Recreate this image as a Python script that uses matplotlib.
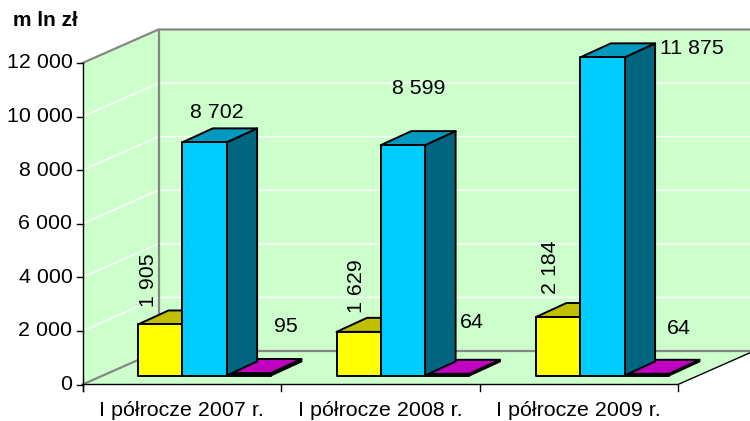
import matplotlib
matplotlib.use("Agg")
import matplotlib.pyplot as plt
from matplotlib.patches import Polygon

plt.rcParams['font.family'] = ['Liberation Sans', 'DejaVu Sans']

categories = ["I półrocze 2007 r.", "I półrocze 2008 r.", "I półrocze 2009 r."]
yellow_values = [1905, 1629, 2184]
blue_values = [8702, 8599, 11875]
magenta_values = [95, 64, 64]
yellow_labels = ["1 905", "1 629", "2 184"]
blue_labels = ["8 702", "8 599", "11 875"]
magenta_labels = ["95", "64", "64"]
y_ticks = [0, 2000, 4000, 6000, 8000, 10000, 12000]
y_tick_labels = ["0", "2 000", "4 000", "6 000", "8 000", "10 000", "12 000"]
unit = "m ln zł"

# layout (pixels)
X0, X1, Y0, Y12 = 82.5, 678.0, 384.5, 63.0
DX, DY = 76.0, -33.5          # box depth
BDX, BDY = 30.5, -14.0        # bar depth
BASE = 375.5                  # bar base at front
GROUP_X = [138.0, 336.5, 536.0]
BW = 44.3
C_WALL = "#CCFFCC"
C_EDGE = "#868686"
FS = 15.4


def vy(v):
    return Y0 - v * (Y0 - Y12) / 12000.0


def bary(v):
    return BASE - v * (Y0 - Y12) / 12000.0


fig = plt.figure(figsize=(7.5, 4.21), dpi=100)
ax = fig.add_axes([0, 0, 1, 1])
ax.set_xlim(0, 750)
ax.set_ylim(421, 0)
ax.axis("off")

# walls and floor
ax.add_patch(Polygon([(X0, vy(12000)), (X0 + DX, vy(12000) + DY), (X0 + DX, Y0 + DY), (X0, Y0)], fc=C_WALL, ec="none", zorder=1))
ax.add_patch(Polygon([(X0 + DX, vy(12000) + DY), (X1 + DX, vy(12000) + DY), (X1 + DX, Y0 + DY), (X0 + DX, Y0 + DY)], fc=C_WALL, ec="none", zorder=1))
ax.add_patch(Polygon([(X0, Y0), (X1, Y0), (X1 + DX, Y0 + DY), (X0 + DX, Y0 + DY)], fc=C_WALL, ec="none", zorder=1))

# grid
for t in y_ticks[1:-1]:
    ax.plot([X0, X0 + DX, X1 + DX], [vy(t), vy(t) + DY, vy(t) + DY], color="white", lw=1.0, zorder=2)

# wall edges
ax.plot([X0, X0 + DX, X1 + DX], [vy(12000), vy(12000) + DY, vy(12000) + DY], color=C_EDGE, lw=1.6, zorder=3)
ax.plot([X0, X0 + DX, X1 + DX], [Y0, Y0 + DY, Y0 + DY], color=C_EDGE, lw=1.6, zorder=3)
ax.plot([X0 + DX, X0 + DX], [vy(12000) + DY, Y0 + DY], color=C_EDGE, lw=1.6, zorder=3)

# axes
ax.plot([X0, X0], [vy(12000), Y0 + 6], color="black", lw=1.0, zorder=4)
ax.plot([X0, X1, X1 + DX], [Y0, Y0, Y0 + DY], color="black", lw=1.0, zorder=4)
for t, lab in zip(y_ticks, y_tick_labels):
    ax.plot([X0 - 6, X0], [vy(t), vy(t)], color="black", lw=1.0, zorder=4)
    ax.text(72.5, vy(t), lab, ha="right", va="center", fontsize=FS, zorder=9)
for i in range(len(categories) + 1):
    x = X0 + (X1 - X0) * i / len(categories)
    ax.plot([x, x], [Y0, Y0 + 6], color="black", lw=1.0, zorder=4)
for i, c in enumerate(categories):
    x = X0 + (X1 - X0) * (i + 0.5) / len(categories)
    ax.text(x - 0.5, 410, c, ha="center", va="center", fontsize=FS, zorder=9)


def bar3d(x, v, front, top, side, z, lw=1.4):
    yb, yt = BASE, bary(v)
    ax.add_patch(Polygon([(x + BW, yt), (x + BW + BDX, yt + BDY), (x + BW + BDX, yb + BDY), (x + BW, yb)], fc=side, ec="black", lw=lw, joinstyle="round", zorder=z))
    ax.add_patch(Polygon([(x, yt), (x + BDX, yt + BDY), (x + BW + BDX, yt + BDY), (x + BW, yt)], fc=top, ec="black", lw=lw, joinstyle="round", zorder=z))
    ax.add_patch(Polygon([(x, yt), (x + BW, yt), (x + BW, yb), (x, yb)], fc=front, ec="black", lw=lw, joinstyle="round", zorder=z))


for i, gx in enumerate(GROUP_X):
    bar3d(gx, yellow_values[i], "#FFFF00", "#C0C000", "#808000", 5)
    bar3d(gx + 2 * BW, magenta_values[i], "black", "#C000C0", "black", 6)
    bar3d(gx + BW, blue_values[i], "#00CCFF", "#0099BF", "#006680", 7)

# data labels
blue_pos = [(217, 113), (419, 89), (692, 49)]
yellow_pos = [(149, 280), (357, 286), (551, 267)]
magenta_pos = [(286, 326), (472, 323), (679, 328)]
for lab, (x, y) in zip(blue_labels, blue_pos):
    ax.text(x, y, lab, ha="center", va="center", fontsize=FS, zorder=9)
for lab, (x, y) in zip(yellow_labels, yellow_pos):
    ax.text(x, y, lab, ha="center", va="center", rotation=90, fontsize=FS, zorder=9)
for lab, (x, y) in zip(magenta_labels, magenta_pos):
    ax.text(x, y, lab, ha="center", va="center", fontsize=FS, zorder=9)

ax.text(13, 21, unit, ha="left", va="center", fontsize=15, fontweight="bold", zorder=9)

fig.savefig("out.png", dpi=100)
